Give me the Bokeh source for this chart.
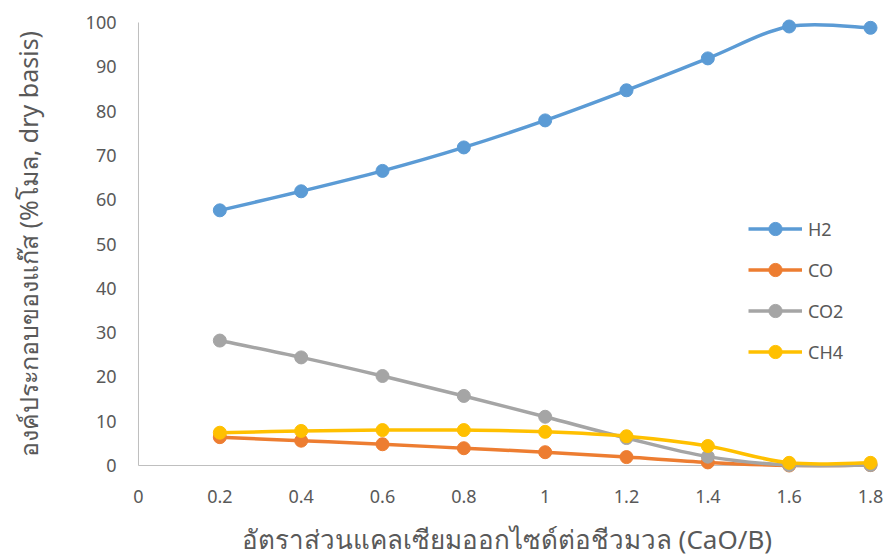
from bokeh.plotting import figure
from bokeh.models import FixedTicker, Legend, LegendItem, Range1d
from bokeh.embed import file_html
from bokeh.resources import INLINE

ratio = [0.2, 0.4, 0.6, 0.8, 1.0, 1.2, 1.4, 1.6, 1.8]
h2 = [57.6, 61.9, 66.5, 71.8, 77.9, 84.7, 91.9, 99.1, 98.8]
co = [6.4, 5.6, 4.8, 3.9, 3.0, 1.9, 0.7, 0.0, 0.1]
co2 = [28.2, 24.4, 20.2, 15.7, 11.0, 6.2, 2.0, 0.1, 0.1]
ch4 = [7.4, 7.8, 8.0, 8.0, 7.6, 6.6, 4.4, 0.6, 0.6]
x_ticks = [0, 0.2, 0.4, 0.6, 0.8, 1.0, 1.2, 1.4, 1.6, 1.8]
x_tick_labels = ["0", "0.2", "0.4", "0.6", "0.8", "1", "1.2", "1.4", "1.6", "1.8"]
y_ticks = [0, 10, 20, 30, 40, 50, 60, 70, 80, 90, 100]
series_names = ["H2", "CO", "CO2", "CH4"]
colors = ["#5B9BD5", "#ED7D31", "#A5A5A5", "#FFC000"]
x_title = "อัตราส่วนแคลเซียมออกไซด์ต่อชีวมวล (CaO/B)"
y_title = "องค์ประกอบของแก๊ส (%โมล, dry basis)"

FONT = "Noto Sans"
TXT = "#595959"
AXIS_COL = "#BFBFBF"

# padded ranges so markers at the extremes are not clipped
p = figure(width=885, height=559, output_backend="svg", toolbar_location=None,
           x_range=Range1d(-5 / 406.7, 1.8 + 10 / 406.7),
           y_range=Range1d(-10 / 4.43, 100 + 10 / 4.43),
           min_border_left=133, min_border_right=5, min_border_top=12, min_border_bottom=84)
p.outline_line_color = None
p.grid.visible = False

for ax in (p.xaxis, p.yaxis):
    ax.axis_line_color = None
    ax.major_tick_line_color = None
    ax.minor_tick_line_color = None
    ax.major_tick_out = 0
    ax.major_tick_in = 0
    ax.major_label_text_font = FONT
    ax.major_label_text_font_size = "18px"
    ax.major_label_text_color = TXT
    ax.axis_label_text_font = FONT
    ax.axis_label_text_color = TXT
    ax.axis_label_text_font_style = "normal"

p.yaxis.axis_label_text_font_size = "25px"
p.xaxis.axis_label_text_font_size = "26px"
p.xaxis.ticker = FixedTicker(ticks=x_ticks)
p.xaxis.major_label_overrides = {t: l for t, l in zip(x_ticks, x_tick_labels)}
p.yaxis.ticker = FixedTicker(ticks=y_ticks)
p.xaxis.major_label_standoff = 14
p.yaxis.major_label_standoff = 17
p.xaxis.axis_label = x_title
p.xaxis.axis_label_standoff = 15
p.yaxis.axis_label = y_title
p.yaxis.axis_label_standoff = 38

# axis lines spanning exactly the value range
p.segment(x0=[x_ticks[0], x_ticks[0]], y0=[y_ticks[0], y_ticks[0]],
          x1=[x_ticks[0], x_ticks[-1]], y1=[y_ticks[-1], y_ticks[0]],
          line_color=AXIS_COL, line_width=1)


def smooth_segments(xs, ys):
    n = len(xs)
    x0, y0, x1, y1, cx0, cy0, cx1, cy1 = ([] for _ in range(8))
    for i in range(n - 1):
        im1 = max(i - 1, 0)
        ip2 = min(i + 2, n - 1)
        x0.append(xs[i]); y0.append(ys[i])
        x1.append(xs[i + 1]); y1.append(ys[i + 1])
        cx0.append(xs[i] + (xs[i + 1] - xs[im1]) / 6)
        cy0.append(ys[i] + (ys[i + 1] - ys[im1]) / 6)
        cx1.append(xs[i + 1] - (xs[ip2] - xs[i]) / 6)
        cy1.append(ys[i + 1] - (ys[ip2] - ys[i]) / 6)
    return dict(x0=x0, y0=y0, x1=x1, y1=y1, cx0=cx0, cy0=cy0, cx1=cx1, cy1=cy1)


items = []
for name, vals, col in zip(series_names, [h2, co, co2, ch4], colors):
    seg = smooth_segments(ratio, vals)
    b = p.bezier(x0=seg["x0"], y0=seg["y0"], x1=seg["x1"], y1=seg["y1"],
                 cx0=seg["cx0"], cy0=seg["cy0"], cx1=seg["cx1"], cy1=seg["cy1"],
                 line_color=col, line_width=3.5)
    s = p.scatter(ratio, vals, size=13, fill_color=col, line_color=col, line_width=1)
    items.append(LegendItem(label=name, renderers=[b, s]))

legend = Legend(items=items, location=(615, 107), padding=0, margin=0,
                spacing=8, glyph_width=54, glyph_height=33, label_height=33,
                label_standoff=6, label_text_font=FONT, label_text_font_size="18px",
                label_text_color=TXT, border_line_color=None, background_fill_alpha=0)
p.add_layout(legend, "center")

open("out.html", "w").write(file_html(p, INLINE))
